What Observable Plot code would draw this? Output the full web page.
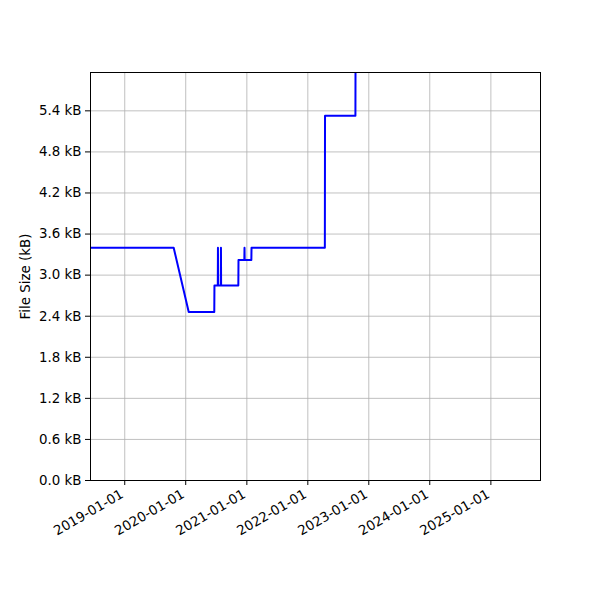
<!DOCTYPE html>
<html>
<head>
<meta charset="utf-8">
<script src="https://cdn.jsdelivr.net/npm/d3@7"></script>
<script src="https://cdn.jsdelivr.net/npm/@observablehq/plot@0.6"></script>
<style>
  body { margin: 0; background: white; }
  svg { font-family: "DejaVu Sans", sans-serif; }
</style>
</head>
<body>
<div id="chart"></div>
<script>
// Commit dates and file sizes (kB)
const dates = [
  "2018-05-01", "2019-10-21", "2020-01-19", "2020-06-20", "2020-06-21",
  "2020-07-11", "2020-07-12", "2020-07-13",
  "2020-07-29", "2020-07-30", "2020-07-31",
  "2020-11-11", "2020-11-12",
  "2020-12-17", "2020-12-18", "2020-12-19",
  "2021-01-28", "2021-01-29", "2022-04-13", "2022-04-14", "2022-10-13", "2022-10-14"
];
const sizes = [
  3.40, 3.40, 2.46, 2.46, 2.85,
  2.85, 3.40, 2.85,
  2.85, 3.40, 2.85,
  2.85, 3.22,
  3.22, 3.40, 3.22,
  3.22, 3.40, 3.40, 5.33, 5.33, 6.60
];
const xTicks = ["2019-01-01", "2020-01-01", "2021-01-01", "2022-01-01", "2023-01-01", "2024-01-01", "2025-01-01"];
const yTicks = [0.0, 0.6, 1.2, 1.8, 2.4, 3.0, 3.6, 4.2, 4.8, 5.4];
const xDomain = ["2018-06-10", "2025-10-25"];
const yDomain = [0, 5.96];
const yLabel = "File Size (kB)";

const data = dates.map((d, i) => ({date: new Date(d), size: sizes[i]}));
const xt = xTicks.map(d => new Date(d));
const fmt = d3.utcFormat("%Y-%m-%d");
const FS = 13.4;

const chart = Plot.plot({
  width: 600,
  height: 600,
  marginLeft: 90,
  marginRight: 60,
  marginTop: 72,
  marginBottom: 120,
  style: {fontSize: FS + "px", fontFamily: "DejaVu Sans, sans-serif", color: "black", background: "white"},
  x: {type: "utc", domain: xDomain.map(d => new Date(d))},
  y: {domain: yDomain},
  marks: [
    Plot.gridX(xt, {stroke: "#b0b0b0", strokeOpacity: 1, strokeWidth: 0.8}),
    Plot.gridY(yTicks, {stroke: "#b0b0b0", strokeOpacity: 1, strokeWidth: 0.8}),
    Plot.line(data, {x: "date", y: "size", stroke: "blue", strokeWidth: 2, clip: true}),
    Plot.frame({stroke: "black", strokeWidth: 1}),
    Plot.axisX({ticks: xt, tickFormat: () => "", tickSize: 5, label: null}),
    Plot.text(xt, {x: d => d, text: d => fmt(d), frameAnchor: "bottom", dx: -5, dy: 8,
      rotate: -30, textAnchor: "end", lineAnchor: "top", fontSize: FS, fill: "black"}),
    Plot.axisY({ticks: yTicks, tickFormat: d => d.toFixed(1) + " kB", tickSize: 5, tickPadding: 4,
      fontSize: FS, label: null}),
    Plot.text([yLabel], {text: d => d, frameAnchor: "left", dx: -65, rotate: -90,
      textAnchor: "middle", lineAnchor: "middle", fontSize: FS, fill: "black"})
  ]
});
document.getElementById("chart").appendChild(chart);
</script>
</body>
</html>
